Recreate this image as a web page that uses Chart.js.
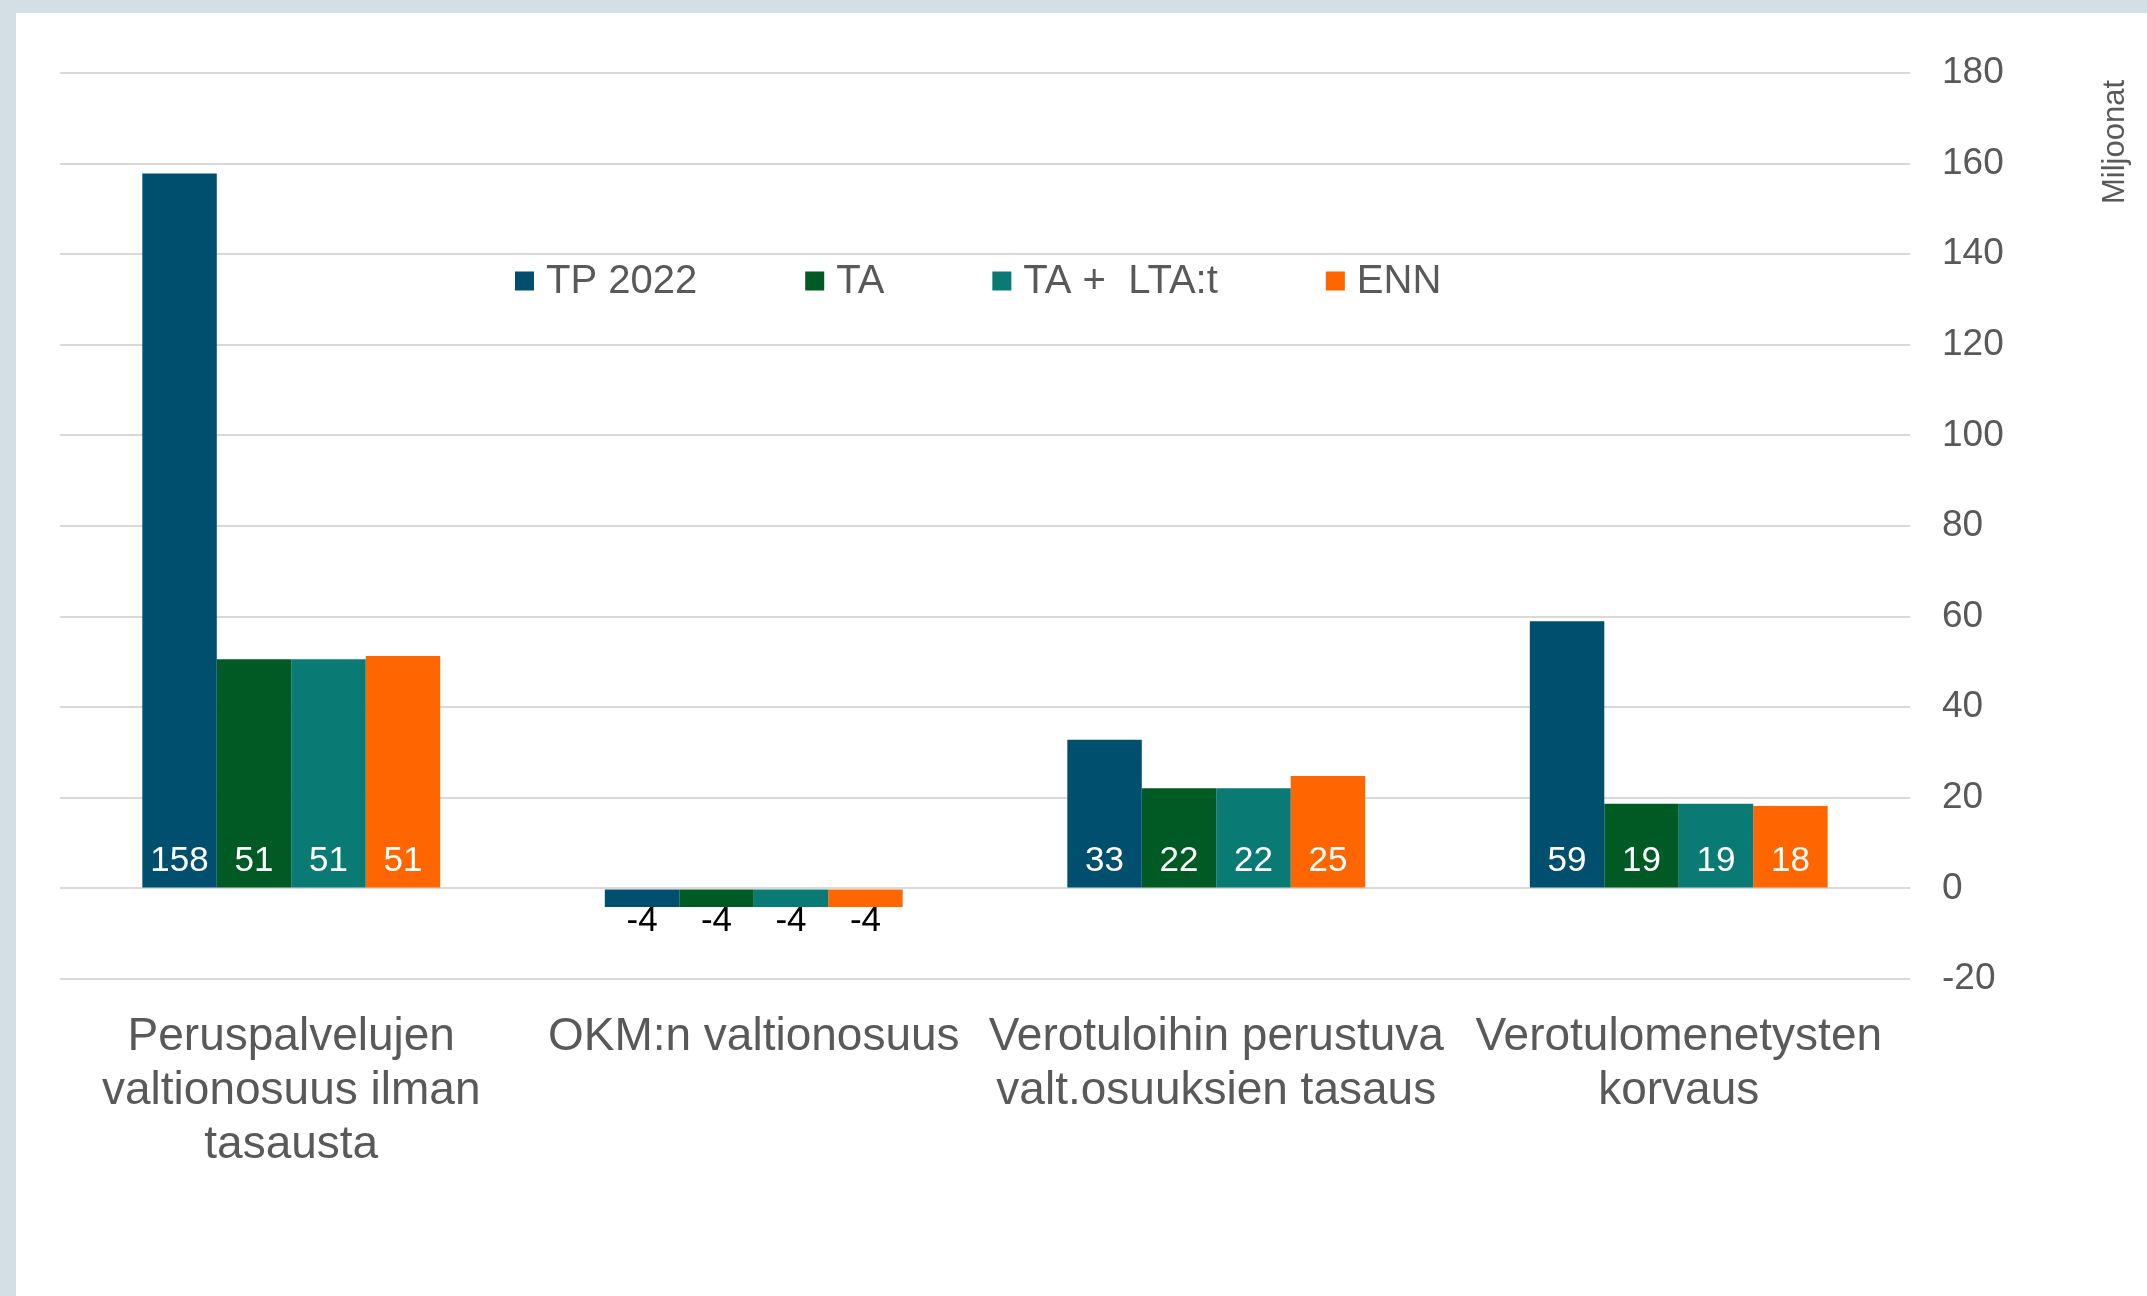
<!DOCTYPE html>
<html>
<head>
<meta charset="utf-8">
<script src="https://cdn.jsdelivr.net/npm/chart.js@4.4.1/dist/chart.umd.min.js"></script>
<style>
  html, body { margin: 0; padding: 0; width: 2147px; height: 1296px; overflow: hidden; background: #D3DFE4; }
  #panel { position: absolute; left: 16px; top: 13px; right: 0; bottom: 0; background: #ffffff; }
  #c { position: absolute; left: 0; top: 0; }
</style>
</head>
<body>
<div id="panel"></div>
<canvas id="c" width="2147" height="1296"></canvas>
<script>
// ---- data ----
const categories = [
  ["Peruspalvelujen", "valtionosuus ilman", "tasausta"],
  "OKM:n valtionosuus",
  ["Verotuloihin perustuva", "valt.osuuksien tasaus"],
  ["Verotulomenetysten", "korvaus"]
];
const seriesNames = ["TP 2022", "TA", "TA +  LTA:t", "ENN"];
const tp2022 = [157.8, -4.1, 32.8, 59.0];
const ta = [50.6, -4.1, 22.1, 18.7];
const taLta = [50.6, -4.1, 22.1, 18.7];
const enn = [51.3, -4.1, 24.8, 18.2];
const yTicks = [-20, 0, 20, 40, 60, 80, 100, 120, 140, 160, 180];
const axisTitle = "Miljoonat";

const colors = ["#004F6E", "#005A23", "#0A7B74", "#FF6600"];
const FONT = "'Liberation Sans', Arial, sans-serif";
const TEXT = "#595959";

const seriesValues = [tp2022, ta, taLta, enn];

const valueLabels = {
  id: 'valueLabels',
  afterDatasetsDraw(chart) {
    const ctx = chart.ctx;
    const zeroY = chart.scales.y.getPixelForValue(0);
    ctx.save();
    ctx.font = "35px " + FONT;
    ctx.textAlign = 'center';
    ctx.textBaseline = 'middle';
    chart.data.datasets.forEach((ds, i) => {
      const meta = chart.getDatasetMeta(i);
      meta.data.forEach((bar, j) => {
        const v = ds.data[j];
        const txt = String(Math.round(v));
        if (v >= 0) {
          ctx.fillStyle = '#ffffff';
          ctx.fillText(txt, bar.x, zeroY - 27);
        } else {
          ctx.fillStyle = '#000000';
          ctx.fillText(txt, bar.x, bar.y + 14);
        }
      });
    });
    ctx.restore();
  }
};

const customLegend = {
  id: 'customLegend',
  afterDraw(chart) {
    const ctx = chart.ctx;
    ctx.save();
    ctx.font = "40px " + FONT;
    ctx.textBaseline = 'middle';
    ctx.textAlign = 'left';
    const box = 19, gapBox = 12, gapItem = 108, cy = 281;
    let x = 515;
    chart.data.datasets.forEach((ds) => {
      ctx.fillStyle = ds.backgroundColor;
      ctx.fillRect(x, cy - box / 2, box, box);
      x += box + gapBox;
      ctx.fillStyle = TEXT;
      ctx.fillText(ds.label, x, cy + 1);
      x += ctx.measureText(ds.label).width + gapItem;
    });
    // axis title
    ctx.font = "31px " + FONT;
    ctx.textAlign = 'center';
    ctx.translate(2115, 142);
    ctx.rotate(-Math.PI / 2);
    ctx.fillText(axisTitle, 0, 0);
    ctx.restore();
  }
};

new Chart(document.getElementById('c'), {
  type: 'bar',
  data: {
    labels: categories,
    datasets: seriesNames.map((n, i) => ({
      label: n,
      data: seriesValues[i],
      backgroundColor: colors[i],
      borderWidth: 0,
      barPercentage: 1.0,
      categoryPercentage: 0.644
    }))
  },
  options: {
    responsive: false,
    animation: false,
    devicePixelRatio: 1,
    layout: { padding: { left: 60, top: 73, right: 0, bottom: 0 } },
    plugins: {
      legend: { display: false },
      tooltip: { enabled: false }
    },
    scales: {
      x: {
        grid: { display: false, drawTicks: false },
        border: { display: false },
        ticks: {
          color: TEXT,
          font: { family: FONT, size: 46, lineHeight: 1.174 },
          maxRotation: 0, minRotation: 0, autoSkip: false, padding: 31
        },
        afterFit(s) { s.height = 1296 - 979; }
      },
      y: {
        position: 'right',
        min: -20, max: 180,
        grid: { color: '#D9D9D9', lineWidth: 2, drawTicks: false },
        border: { display: false },
        afterBuildTicks(s) { s.ticks = yTicks.map(v => ({ value: v })); },
        ticks: {
          color: TEXT,
          font: { family: FONT, size: 37 },
          padding: 32
        },
        afterFit(s) { s.width = 2147 - 1910; }
      }
    }
  },
  plugins: [valueLabels, customLegend]
});
</script>
</body>
</html>
